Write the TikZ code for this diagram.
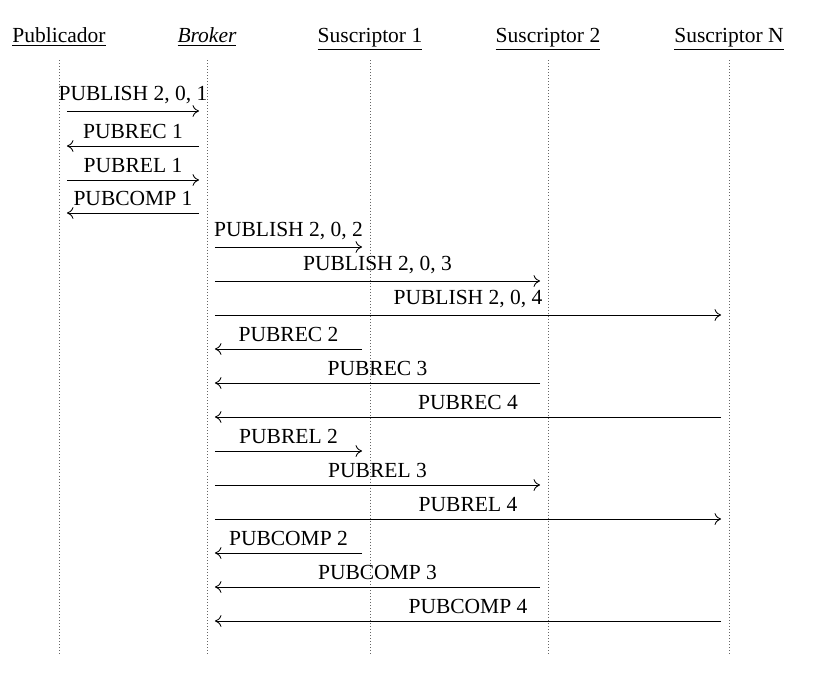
\documentclass[tikz,border=0pt]{standalone}
\usepackage{fontspec}
\setmainfont{Liberation Serif}
\usetikzlibrary{arrows.meta, calc}

\def\gap{3.7pt}

\begin{document}
\begin{tikzpicture}[x=0.465pt, y=-0.465pt,
    actor/.style={inner sep=0pt, anchor=base},
    life/.style={densely dotted, black!60},
    msg/.style={-{To[length=3pt, width=5.5pt]}}]
      \useasboundingbox (0,0) rectangle (820,674);

      \node[actor] (pub) at (59,42) {\underline{Publicador}};
      \node[actor] (broker) at (207,42) {\underline{\emph{Broker}}};
      \node[actor] (sus1) at (370,42) {\underline{Suscriptor 1}};
      \node[actor] (sus2) at (548,42) {\underline{Suscriptor 2}};
      \node[actor] (susn) at (729,42) {\underline{Suscriptor N}};

      \coordinate (top) at (0,60);
      \coordinate (bot) at (0,655);
      \draw[life] (pub |- top) -- (pub |- bot);
      \draw[life] (broker |- top) -- (broker |- bot);
      \draw[life] (sus1 |- top) -- (sus1 |- bot);
      \draw[life] (sus2 |- top) -- (sus2 |- bot);
      \draw[life] (susn |- top) -- (susn |- bot);

      \coordinate (m1) at (0,111);
      \coordinate (m2) at (0,146);
      \coordinate (m3) at (0,180);
      \coordinate (m4) at (0,213);
      \coordinate (m5) at (0,247);
      \coordinate (m6) at (0,281);
      \coordinate (m7) at (0,315);
      \coordinate (m8) at (0,349);
      \coordinate (m9) at (0,383);
      \coordinate (m10) at (0,417);
      \coordinate (m11) at (0,451);
      \coordinate (m12) at (0,485);
      \coordinate (m13) at (0,519);
      \coordinate (m14) at (0,553);
      \coordinate (m15) at (0,587);
      \coordinate (m16) at (0,621);

      % publicador <-> broker
      \draw[msg] ([xshift=\gap]pub |- m1) -- node[above] {PUBLISH 2, 0, 1} ([xshift=-\gap]broker |- m1);
      \draw[msg] ([xshift=-\gap]broker |- m2) -- node[above] {PUBREC 1} ([xshift=\gap]pub |- m2);
      \draw[msg] ([xshift=\gap]pub |- m3) -- node[above] {PUBREL 1} ([xshift=-\gap]broker |- m3);
      \draw[msg] ([xshift=-\gap]broker |- m4) -- node[above] {PUBCOMP 1} ([xshift=\gap]pub |- m4);

      % broker <-> suscriptores
      \draw[msg] ([xshift=\gap]broker |- m5) -- node[above] {PUBLISH 2, 0, 2} ([xshift=-\gap]sus1 |- m5);
      \draw[msg] ([xshift=\gap]broker |- m6) -- node[above] {PUBLISH 2, 0, 3} ([xshift=-\gap]sus2 |- m6);
      \draw[msg] ([xshift=\gap]broker |- m7) -- node[above] {PUBLISH 2, 0, 4} ([xshift=-\gap]susn |- m7);

      \draw[msg] ([xshift=-\gap]sus1 |- m8) -- node[above] {PUBREC 2} ([xshift=\gap]broker |- m8);
      \draw[msg] ([xshift=-\gap]sus2 |- m9) -- node[above] {PUBREC 3} ([xshift=\gap]broker |- m9);
      \draw[msg] ([xshift=-\gap]susn |- m10) -- node[above] {PUBREC 4} ([xshift=\gap]broker |- m10);

      \draw[msg] ([xshift=\gap]broker |- m11) -- node[above] {PUBREL 2} ([xshift=-\gap]sus1 |- m11);
      \draw[msg] ([xshift=\gap]broker |- m12) -- node[above] {PUBREL 3} ([xshift=-\gap]sus2 |- m12);
      \draw[msg] ([xshift=\gap]broker |- m13) -- node[above] {PUBREL 4} ([xshift=-\gap]susn |- m13);

      \draw[msg] ([xshift=-\gap]sus1 |- m14) -- node[above] {PUBCOMP 2} ([xshift=\gap]broker |- m14);
      \draw[msg] ([xshift=-\gap]sus2 |- m15) -- node[above] {PUBCOMP 3} ([xshift=\gap]broker |- m15);
      \draw[msg] ([xshift=-\gap]susn |- m16) -- node[above] {PUBCOMP 4} ([xshift=\gap]broker |- m16);
    \end{tikzpicture}
\end{document}
